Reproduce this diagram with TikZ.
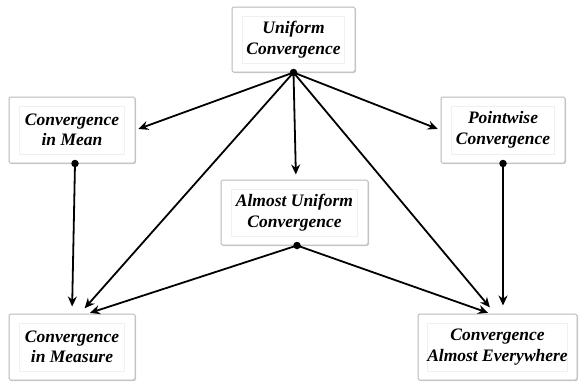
\documentclass[tikz,border=0pt]{standalone}
\usepackage{fontspec}
\setmainfont{Liberation Serif}
\usetikzlibrary{arrows.meta,shadows}
\tikzset{
  outerbox/.style={draw=gray!55, line width=1pt, rounded corners=1.5pt, fill=white,
    drop shadow={shadow xshift=1pt, shadow yshift=-1pt, opacity=0.35}, inner sep=0pt},
  innerbox/.style={draw=gray!12, line width=0.6pt, inner sep=0pt, align=center,
    font=\fontsize{17.5}{20.5}\selectfont\bfseries\itshape},
  arr/.style={line width=1.8pt, -{Stealth[length=10pt,width=9pt]}},
  dot/.style={circle, fill=black, inner sep=0pt, minimum size=7.5pt}
}
\newcommand{\card}[6]{%
  \node[outerbox, minimum width=#4pt, minimum height=#5pt] (#1) at (#2,#3) {};
  \node[innerbox, minimum width=#4pt-21pt, minimum height=#5pt-18pt] (#1-in) at (#2,#3) {#6};
}
\begin{document}
\begin{tikzpicture}[x=1pt,y=-1pt]
\useasboundingbox (0,0) rectangle (580,381);
\card{u}{293.5}{39.5}{123}{65}{Uniform\\Convergence}
\card{m}{72}{130}{126}{66}{Convergence\\in Mean}
\card{p}{503}{130}{124}{66}{Pointwise\\Convergence}
\card{a}{294.5}{212.5}{147}{65}{Almost Uniform\\Convergence}
\card{ms}{72}{347}{126}{66}{Convergence\\in Measure}
\card{e}{497.5}{347}{159}{66}{Convergence\\Almost Everywhere}
% arrows
\draw[arr, shorten >=3pt] (u.south) -- (m.east);
\draw[arr, shorten >=3pt] (u.south) -- (p.west);
\draw[arr, shorten >=5pt] (u.south) -- ([xshift=1.5pt]a.north);
\draw[arr, shorten >=7pt] (u.south) -- ([xshift=8pt]ms.north);
\draw[arr, shorten >=8pt] (u.south) -- ([xshift=-2.5pt]e.north);
\draw[arr, shorten >=7pt] ([xshift=3pt]m.south) -- (ms.north);
\draw[arr, shorten >=8pt] (p.south) -- ([xshift=5.5pt]e.north);
\draw[arr, shorten >=2pt] ([xshift=2.5pt]a.south) -- ([xshift=16pt]ms.north);
\draw[arr, shorten >=2pt] ([xshift=2.5pt]a.south) -- ([xshift=-7.5pt]e.north);
% dots
\node[dot] (du) at (u.south) {};
\node[dot] (dm) at ([xshift=3pt]m.south) {};
\node[dot] (dp) at (p.south) {};
\node[dot] (da) at ([xshift=2.5pt]a.south) {};
\end{tikzpicture}
\end{document}
